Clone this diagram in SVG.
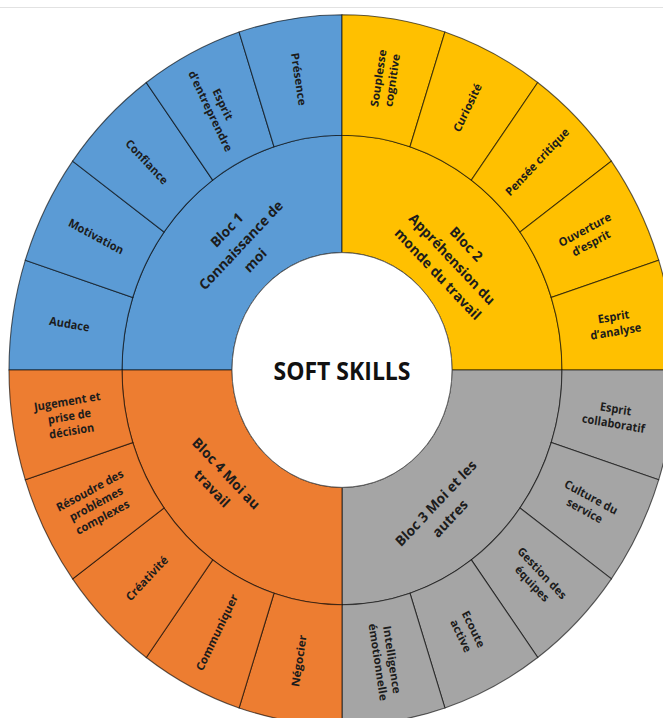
<svg xmlns="http://www.w3.org/2000/svg" width="663" height="718" viewBox="0 0 663 718">
  <style>
    .seg { stroke: #000; stroke-opacity: 0.62; stroke-width: 1.1; vector-effect: non-scaling-stroke; }
    .blue { fill: #5b9bd5; }
    .yellow { fill: #ffc000; }
    .gray { fill: #a5a5a5; }
    .orange { fill: #ed7d31; }
    .lbl { font-family: "Open Sans", "Liberation Sans", sans-serif; font-weight: 700; font-size: 11px; fill: #1c1c1c; text-anchor: middle; }
    .bloc { font-size: 13.5px; }
    .title { font-family: "Open Sans", "Liberation Sans", sans-serif; font-weight: 700; font-size: 23px; fill: #111; text-anchor: middle; }
  </style>
  <rect width="663" height="718" fill="#fff"/>
  <line x1="0" y1="7.5" x2="663" y2="7.5" stroke="#e2e2e2" stroke-width="1"/>

  <!-- sunburst: centre (342,370), slightly taller than wide -->
  <g transform="translate(342 370) scale(1 1.067)">

    <!-- Bloc 1 : Connaissance de moi -->
    <g id="bloc1">
      <path class="seg blue" d="M-220,0 A220,220 0 0 1 0,-220 L0,-110 A110,110 0 0 0 -110,0 Z"/>
      <text class="lbl bloc" transform="translate(-101 -117) rotate(-45)"><tspan x="0" y="-15.3">Bloc 1</tspan><tspan x="0" y="4.7">Connaissance de</tspan><tspan x="0" y="24.7">moi</tspan></text>
    </g>
    <g id="audace">
      <path class="seg blue" d="M-333,0 A333,333 0 0 1 -316.70,-102.90 L-209.23,-67.98 A220,220 0 0 0 -220,0 Z"/>
      <text class="lbl" transform="translate(-272.6 -43.18) rotate(9)"><tspan x="0" y="4">Audace</tspan></text>
    </g>
    <g id="motivation">
      <path class="seg blue" d="M-316.70,-102.90 A333,333 0 0 1 -269.40,-195.73 L-177.98,-129.31 A220,220 0 0 0 -209.23,-67.98 Z"/>
      <text class="lbl" transform="translate(-245.92 -125.3) rotate(27)"><tspan x="0" y="4">Motivation</tspan></text>
    </g>
    <g id="confiance">
      <path class="seg blue" d="M-269.40,-195.73 A333,333 0 0 1 -195.73,-269.40 L-129.31,-177.98 A220,220 0 0 0 -177.98,-129.31 Z"/>
      <text class="lbl" transform="translate(-195.16 -195.16) rotate(45)"><tspan x="0" y="4">Confiance</tspan></text>
    </g>
    <g id="esprit-entreprendre">
      <path class="seg blue" d="M-195.73,-269.40 A333,333 0 0 1 -102.90,-316.70 L-67.98,-209.23 A220,220 0 0 0 -129.31,-177.98 Z"/>
      <text class="lbl" transform="translate(-125.3 -245.92) rotate(63)"><tspan x="0" y="-3">Esprit</tspan><tspan x="0" y="11">d’entreprendre</tspan></text>
    </g>
    <g id="presence">
      <path class="seg blue" d="M-102.90,-316.70 A333,333 0 0 1 0,-333 L0,-220 A220,220 0 0 0 -67.98,-209.23 Z"/>
      <text class="lbl" transform="translate(-43.18 -272.6) rotate(81)"><tspan x="0" y="4">Présence</tspan></text>
    </g>

    <!-- Bloc 2 : Appréhension du monde du travail -->
    <g id="bloc2">
      <path class="seg yellow" d="M0,-220 A220,220 0 0 1 220,0 L110,0 A110,110 0 0 0 0,-110 Z"/>
      <text class="lbl bloc" transform="translate(110 -104) rotate(45)"><tspan x="0" y="-15.3">Bloc 2</tspan><tspan x="0" y="4.7">Appréhension du</tspan><tspan x="0" y="24.7">monde du travail</tspan></text>
    </g>
    <g id="souplesse">
      <path class="seg yellow" d="M0,-333 A333,333 0 0 1 102.90,-316.70 L67.98,-209.23 A220,220 0 0 0 0,-220 Z"/>
      <text class="lbl" transform="translate(43.18 -272.6) rotate(-81)"><tspan x="0" y="-3">Souplesse</tspan><tspan x="0" y="11">cognitive</tspan></text>
    </g>
    <g id="curiosite">
      <path class="seg yellow" d="M102.90,-316.70 A333,333 0 0 1 195.73,-269.40 L129.31,-177.98 A220,220 0 0 0 67.98,-209.23 Z"/>
      <text class="lbl" transform="translate(125.3 -245.92) rotate(-63)"><tspan x="0" y="4">Curiosité</tspan></text>
    </g>
    <g id="pensee-critique">
      <path class="seg yellow" d="M195.73,-269.40 A333,333 0 0 1 269.40,-195.73 L177.98,-129.31 A220,220 0 0 0 129.31,-177.98 Z"/>
      <text class="lbl" transform="translate(195.16 -195.16) rotate(-45)"><tspan x="0" y="4">Pensée critique</tspan></text>
    </g>
    <g id="ouverture">
      <path class="seg yellow" d="M269.40,-195.73 A333,333 0 0 1 316.70,-102.90 L209.23,-67.98 A220,220 0 0 0 177.98,-129.31 Z"/>
      <text class="lbl" transform="translate(245.92 -125.3) rotate(-27)"><tspan x="0" y="-3">Ouverture</tspan><tspan x="0" y="11">d’esprit</tspan></text>
    </g>
    <g id="esprit-analyse">
      <path class="seg yellow" d="M316.70,-102.90 A333,333 0 0 1 333,0 L220,0 A220,220 0 0 0 209.23,-67.98 Z"/>
      <text class="lbl" transform="translate(272.6 -43.18) rotate(-9)"><tspan x="0" y="-3">Esprit</tspan><tspan x="0" y="11">d’analyse</tspan></text>
    </g>

    <!-- Bloc 3 : Moi et les autres -->
    <g id="bloc3">
      <path class="seg gray" d="M220,0 A220,220 0 0 1 0,220 L0,110 A110,110 0 0 0 110,0 Z"/>
      <text class="lbl bloc" transform="translate(101 132) rotate(-45)"><tspan x="0" y="-5.3">Bloc 3 Moi et les</tspan><tspan x="0" y="14.7">autres</tspan></text>
    </g>
    <g id="esprit-collaboratif">
      <path class="seg gray" d="M333,0 A333,333 0 0 1 316.70,102.90 L209.23,67.98 A220,220 0 0 0 220,0 Z"/>
      <text class="lbl" transform="translate(272.6 43.18) rotate(9)"><tspan x="0" y="-3">Esprit</tspan><tspan x="0" y="11">collaboratif</tspan></text>
    </g>
    <g id="culture-service">
      <path class="seg gray" d="M316.70,102.90 A333,333 0 0 1 269.40,195.73 L177.98,129.31 A220,220 0 0 0 209.23,67.98 Z"/>
      <text class="lbl" transform="translate(245.92 125.3) rotate(27)"><tspan x="0" y="-3">Culture du</tspan><tspan x="0" y="11">service</tspan></text>
    </g>
    <g id="gestion-equipes">
      <path class="seg gray" d="M269.40,195.73 A333,333 0 0 1 195.73,269.40 L129.31,177.98 A220,220 0 0 0 177.98,129.31 Z"/>
      <text class="lbl" transform="translate(195.16 195.16) rotate(45)"><tspan x="0" y="-3">Gestion des</tspan><tspan x="0" y="11">équipes</tspan></text>
    </g>
    <g id="ecoute-active">
      <path class="seg gray" d="M195.73,269.40 A333,333 0 0 1 102.90,316.70 L67.98,209.23 A220,220 0 0 0 129.31,177.98 Z"/>
      <text class="lbl" transform="translate(125.3 245.92) rotate(63)"><tspan x="0" y="-3">Ecoute</tspan><tspan x="0" y="11">active</tspan></text>
    </g>
    <g id="intelligence-emotionnelle">
      <path class="seg gray" d="M102.90,316.70 A333,333 0 0 1 0,333 L0,220 A220,220 0 0 0 67.98,209.23 Z"/>
      <text class="lbl" transform="translate(43.18 272.6) rotate(81)"><tspan x="0" y="-3">Intelligence</tspan><tspan x="0" y="11">émotionnelle</tspan></text>
    </g>

    <!-- Bloc 4 : Moi au travail -->
    <g id="bloc4">
      <path class="seg orange" d="M0,220 A220,220 0 0 1 -220,0 L-110,0 A110,110 0 0 0 0,110 Z"/>
      <text class="lbl bloc" transform="translate(-123 104) rotate(45)"><tspan x="0" y="-5.3">Bloc 4 Moi au</tspan><tspan x="0" y="14.7">travail</tspan></text>
    </g>
    <g id="negocier">
      <path class="seg orange" d="M0,333 A333,333 0 0 1 -102.90,316.70 L-67.98,209.23 A220,220 0 0 0 0,220 Z"/>
      <text class="lbl" transform="translate(-43.18 272.6) rotate(-81)"><tspan x="0" y="4">Négocier</tspan></text>
    </g>
    <g id="communiquer">
      <path class="seg orange" d="M-102.90,316.70 A333,333 0 0 1 -195.73,269.40 L-129.31,177.98 A220,220 0 0 0 -67.98,209.23 Z"/>
      <text class="lbl" transform="translate(-125.3 245.92) rotate(-63)"><tspan x="0" y="4">Communiquer</tspan></text>
    </g>
    <g id="creativite">
      <path class="seg orange" d="M-195.73,269.40 A333,333 0 0 1 -269.40,195.73 L-177.98,129.31 A220,220 0 0 0 -129.31,177.98 Z"/>
      <text class="lbl" transform="translate(-195.16 195.16) rotate(-45)"><tspan x="0" y="4">Créativité</tspan></text>
    </g>
    <g id="resoudre-problemes">
      <path class="seg orange" d="M-269.40,195.73 A333,333 0 0 1 -316.70,102.90 L-209.23,67.98 A220,220 0 0 0 -177.98,129.31 Z"/>
      <text class="lbl" transform="translate(-245.92 125.3) rotate(-27)"><tspan x="0" y="-10">Résoudre des</tspan><tspan x="0" y="4">problèmes</tspan><tspan x="0" y="18">complexes</tspan></text>
    </g>
    <g id="jugement-decision">
      <path class="seg orange" d="M-316.70,102.90 A333,333 0 0 1 -333,0 L-220,0 A220,220 0 0 0 -209.23,67.98 Z"/>
      <text class="lbl" transform="translate(-272.6 43.18) rotate(-9)"><tspan x="0" y="-10">Jugement et</tspan><tspan x="0" y="4">prise de</tspan><tspan x="0" y="18">décision</tspan></text>
    </g>

    <!-- centre -->
    <g id="soft-skills">
      <circle r="110" fill="#fff" stroke="#555" stroke-opacity="0.8" stroke-width="1" vector-effect="non-scaling-stroke"/>
      <text class="title" x="0" y="9.5">SOFT SKILLS</text>
    </g>
  </g>
</svg>
